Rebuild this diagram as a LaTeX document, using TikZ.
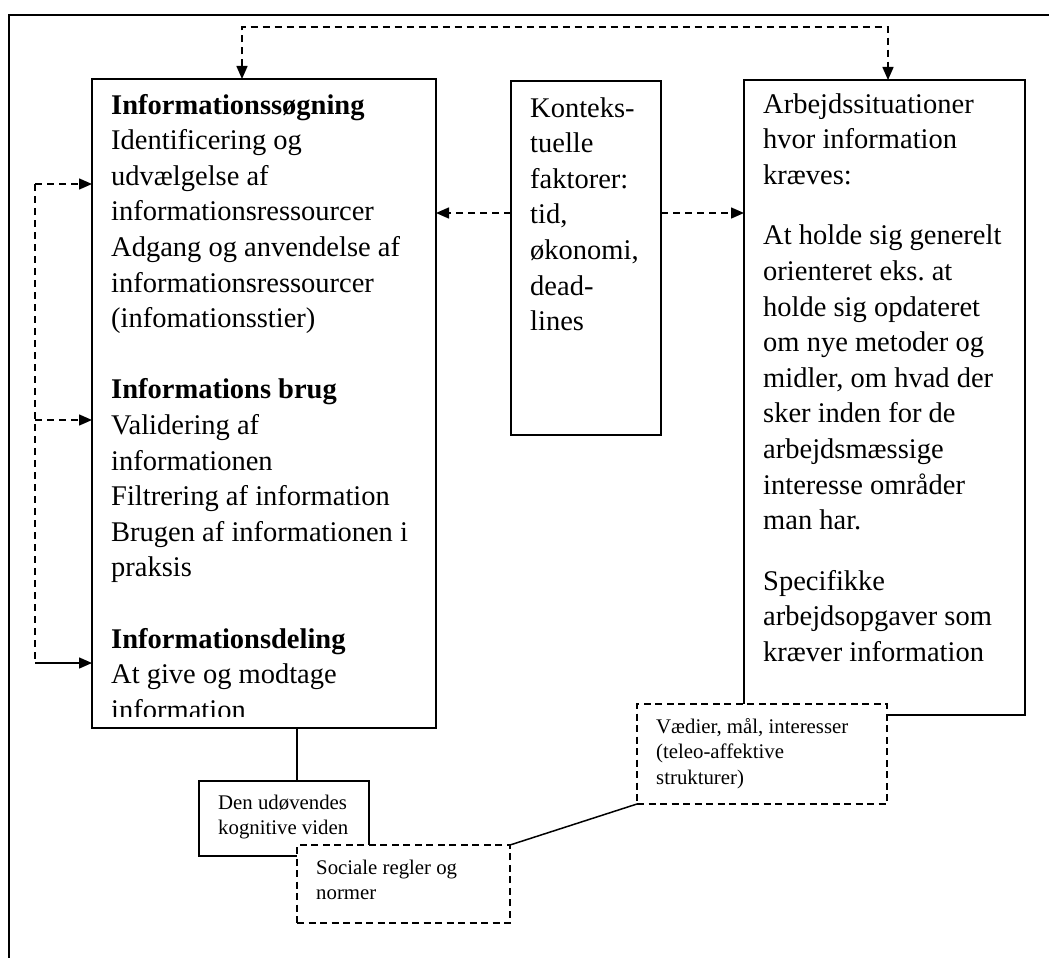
\documentclass[tikz,border=0pt]{standalone}
\usepackage{fontspec}
\setmainfont{Liberation Serif}
\usetikzlibrary{arrows.meta}
\frenchspacing
\newcommand\lns[1]{\vtop{\halign{##\hfil\cr#1\crcr}}}
\newcommand\bigtxt{\fontsize{28.5pt}{35.6pt}\selectfont}
\newcommand\smalltxt{\fontsize{20.8pt}{25.5pt}\selectfont}
\begin{document}
\begin{tikzpicture}[x=1pt,y=-1pt,
  box/.style={draw, line width=1.5pt, fill=white, inner sep=0pt, outer sep=0pt, anchor=north west},
  dbox/.style={box, dash pattern=on 7pt off 4.5pt},
  txt/.style={anchor=base west, inner sep=0pt, font=\bigtxt},
  stxt/.style={anchor=base west, inner sep=0pt, font=\smalltxt},
  conn/.style={line width=1.5pt},
  dconn/.style={conn, dash pattern=on 7pt off 5pt},
  tip/.style={-{Triangle[length=13pt,width=11pt]}},
  tips/.style={{Triangle[length=13pt,width=11pt]}-{Triangle[length=13pt,width=11pt]}},
  frame/.style={line width=2.2pt}]
\useasboundingbox (0,0) rectangle (1049,958);
% outer frame (cropped at right and bottom)
\draw[frame] (9,975) -- (9,15) -- (1065,15);

% main boxes
\node[box, minimum width=344pt, minimum height=649pt] (L) at (92,79) {};
\node[box, minimum width=150pt, minimum height=354pt] (M) at (511,81) {};
\node[box, minimum width=281pt, minimum height=635pt] (R) at (744,80) {};

\begin{scope}
\clip (92,79) rectangle (436,716);
\node[txt] (Ltxt) at (111,114) {\lns{\textbf{Informationssøgning}\cr
Identificering og\cr
udvælgelse af\cr
informationsressourcer\cr
Adgang og anvendelse af\cr
informationsressourcer\cr
(infomationsstier)\cr
\cr
\textbf{Informations brug}\cr
Validering af\cr
informationen\cr
Filtrering af information\cr
Brugen af informationen i\cr
praksis\cr
\cr
\textbf{Informationsdeling}\cr
At give og modtage\cr
information}};
\end{scope}

\node[txt] (Mtxt) at (530,117) {\lns{Konteks-\cr tuelle\cr faktorer:\cr tid,\cr økonomi,\cr dead-\cr lines}};

\node[txt] (Rtxt) at (763,113) {\lns{Arbejdssituationer\cr
hvor information\cr
kræves:\cr\noalign{\vskip 25pt}
At holde sig generelt\cr
orienteret eks. at\cr
holde sig opdateret\cr
om nye metoder og\cr
midler, om hvad der\cr
sker inden for de\cr
arbejdsmæssige\cr
interesse områder\cr
man har.\cr\noalign{\vskip 25pt}
Specifikke\cr
arbejdsopgaver som\cr
kræver information}};

% small boxes
\node[dbox, minimum width=250pt, minimum height=100pt] (V) at (637,704) {};
\node[stxt] (Vtxt) at (656,733) {\lns{Vædier, mål, interesser\cr (teleo-affektive\cr strukturer)}};

\node[box, minimum width=170pt, minimum height=75pt] (D) at (199,781) {};
\node[stxt] (Dtxt) at (218,809) {\lns{Den udøvendes\cr kognitive viden}};

\node[dbox, minimum width=213pt, minimum height=78pt] (S) at (297,845) {};
\node[stxt] (Stxt) at (316,874) {\lns{Sociale regler og\cr normer}};

% connectors
\coordinate (top) at (0,27);
\draw[dconn, tips] ([xshift=150pt]L.north west) -- ([xshift=150pt]L.north west |- top) -| ([xshift=144pt]R.north west);

\coordinate (ym) at (0,213);
\draw[dconn, tip] (M.west |- ym) -- (L.east |- ym);
\draw[dconn, tip] (M.east |- ym) -- (R.west |- ym);

\coordinate (a1) at (35,184);
\coordinate (a2) at (35,420);
\coordinate (a3) at (35,663);
\draw[dconn] (a1) -- (a3);
\draw[dconn, tip] (a1) -- (L.west |- a1);
\draw[dconn, tip] (a2) -- (L.west |- a2);
\draw[conn, tip] (a3) -- (L.west |- a3);

\coordinate (vx) at (297,0);
\draw[conn] (L.south -| vx) -- (D.north -| vx);
\draw[conn] (S.north east) -- (V.south west);
\end{tikzpicture}
\end{document}
